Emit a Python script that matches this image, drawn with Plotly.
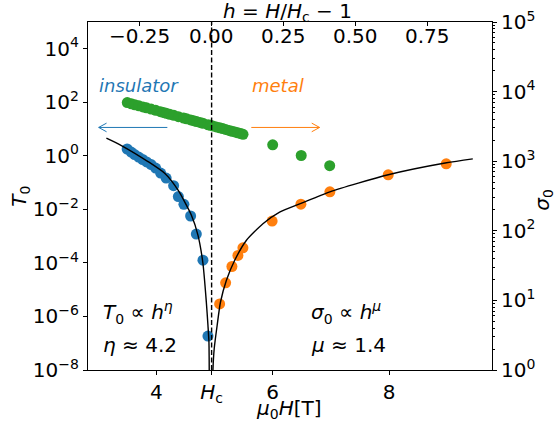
import plotly.graph_objects as go

# ---------------- data ----------------
HC = 4.95  # critical field (T)

ins_H = [3.498, 3.567, 3.627, 3.696, 3.765, 3.833, 3.911, 3.988, 4.074, 4.168,
         4.297, 4.378, 4.474, 4.589, 4.687, 4.801, 4.887]
ins_T0 = [1.8, 1.39, 1.12, 0.90, 0.73, 0.59, 0.47, 0.35, 0.227, 0.148,
          0.077, 0.030, 0.0154, 5.66e-3, 1.2e-3, 1.27e-4, 1.86e-7]

met_H = [5.088, 5.191, 5.299, 5.402, 5.488, 5.990, 6.485, 6.983, 7.986, 8.983]
met_sigma0 = [8.9, 17.9, 30.7, 44.2, 57, 138, 241, 363, 638, 918]

grn_H = [3.50, 3.57, 3.63, 3.70, 3.77, 3.83, 3.91, 3.99, 4.07, 4.12, 4.17, 4.23,
         4.30, 4.38, 4.47, 4.52, 4.59, 4.64, 4.69, 4.75, 4.80, 4.89, 4.93, 4.97,
         5.03, 5.09, 5.14, 5.19, 5.25, 5.30, 5.35, 5.40, 5.45, 5.49,
         6.00, 6.49, 6.98]
grn_T0 = [97.5, 88, 81, 74, 67, 62, 56, 50, 44.5, 41.7, 38.7, 35.8,
          32.6, 29.1, 25.8, 24.1, 21.9, 20.5, 19.1, 17.7, 16.5, 14.5, 13.8, 13.1,
          12.0, 11.1, 10.4, 9.7, 8.9, 8.3, 7.8, 7.3, 6.8, 6.4,
          2.58, 1.03, 0.43]

# fitted curves
fit_ins_H = [3.141, 3.399, 3.856, 4.143, 4.371, 4.601, 4.715, 4.801, 4.859,
             4.887, 4.904, 4.909, 4.912]
fit_ins_T0 = [4.56, 2.43, 0.612, 0.223, 0.0533, 6.17e-3, 1.10e-3, 9.5e-5,
              3.49e-6, 4.68e-7, 1.11e-7, 1e-8, 1e-10]

fit_met_H = [4.969, 4.973, 4.995, 5.045, 5.101, 5.203, 5.345, 5.546, 5.832,
             6.119, 6.485, 6.983, 7.986, 8.988, 9.440]
fit_met_sigma0 = [0.5, 1.0, 2.04, 4.36, 9.33, 19.3, 37.4, 72.6, 126,
                  185, 247, 363, 638, 948, 1081]

# region arrows (x in T, y in T0 units)
arrow_ins_x = [4.189, 3.009]
arrow_met_x = [5.632, 6.806]
arrow_y = 11.5

left_ticks = [1e-8, 1e-6, 1e-4, 1e-2, 1e0, 1e2, 1e4]
left_ticktext = ["10<sup>\u22128</sup>", "10<sup>\u22126</sup>", "10<sup>\u22124</sup>",
                 "10<sup>\u22122</sup>", "10<sup>0</sup>", "10<sup>2</sup>", "10<sup>4</sup>"]
right_ticks = [1e0, 1e1, 1e2, 1e3, 1e4, 1e5]
right_ticktext = ["10<sup>%d</sup>" % i for i in range(6)]
top_ticks = [-0.25, 0.0, 0.25, 0.5, 0.75]
top_ticktext = ["\u22120.25", "0.00", "0.25", "0.50", "0.75"]

BLUE, ORANGE, GREEN = "#1f77b4", "#ff7f0e", "#2ca02c"
FONT = "DejaVu Sans"
XR = [2.825, 9.77]

fig = go.Figure()

fig.add_trace(go.Scatter(x=grn_H, y=grn_T0, mode="markers",
                         marker=dict(color=GREEN, size=11, line=dict(width=0)),
                         xaxis="x", yaxis="y", showlegend=False))
fig.add_trace(go.Scatter(x=ins_H, y=ins_T0, mode="markers",
                         marker=dict(color=BLUE, size=11, line=dict(width=0)),
                         xaxis="x", yaxis="y", showlegend=False))
fig.add_trace(go.Scatter(x=fit_ins_H, y=fit_ins_T0, mode="lines",
                         line=dict(color="black", width=1.4, shape="spline", smoothing=0.6),
                         xaxis="x", yaxis="y", showlegend=False))

# arrows
dx_head = 0.135
fy = 1.45
fig.add_trace(go.Scatter(
    x=arrow_ins_x + [None, arrow_ins_x[1] + dx_head, arrow_ins_x[1], arrow_ins_x[1] + dx_head],
    y=[arrow_y, arrow_y, None, arrow_y * fy, arrow_y, arrow_y / fy],
    mode="lines", line=dict(color=BLUE, width=1), xaxis="x", yaxis="y", showlegend=False))
fig.add_trace(go.Scatter(
    x=arrow_met_x + [None, arrow_met_x[1] - dx_head, arrow_met_x[1], arrow_met_x[1] - dx_head],
    y=[arrow_y, arrow_y, None, arrow_y * fy, arrow_y, arrow_y / fy],
    mode="lines", line=dict(color=ORANGE, width=1), xaxis="x", yaxis="y", showlegend=False))

fig.add_trace(go.Scatter(x=met_H, y=met_sigma0, mode="markers",
                         marker=dict(color=ORANGE, size=11, line=dict(width=0)),
                         xaxis="x", yaxis="y2", showlegend=False))
fig.add_trace(go.Scatter(x=fit_met_H, y=fit_met_sigma0, mode="lines",
                         line=dict(color="black", width=1.4, shape="spline", smoothing=0.6),
                         xaxis="x", yaxis="y2", showlegend=False))

# invisible trace to activate the top h-axis
fig.add_trace(go.Scatter(x=[h / HC - 1 for h in met_H], y=met_sigma0, mode="markers",
                         marker=dict(opacity=0), hoverinfo="skip",
                         xaxis="x2", yaxis="y", showlegend=False))

tickfont = dict(family=FONT, size=20, color="black")
fig.update_layout(
    width=555, height=425,
    margin=dict(l=88, r=63, t=22, b=55),
    paper_bgcolor="white", plot_bgcolor="white",
    font=dict(family=FONT, size=20, color="black"),
    xaxis=dict(range=XR, tickvals=[4, HC, 6, 8],
               ticktext=["4", "<i>H</i><sub>c</sub>", "6", "8"],
               ticks="outside", ticklen=4, tickwidth=1, tickcolor="black",
               showline=True, linecolor="black", linewidth=1.2, automargin=False,
               showgrid=False, zeroline=False, tickfont=tickfont),
    xaxis2=dict(range=[XR[0] / HC - 1, XR[1] / HC - 1], overlaying="x", side="top",
                anchor="y", tickvals=top_ticks, showticklabels=False,
                ticks="inside", ticklen=4, tickcolor="black", automargin=False,
                showline=True, linecolor="black",
                linewidth=1.2, showgrid=False, zeroline=False),
    yaxis=dict(type="log", range=[-8, 5], tickvals=left_ticks, ticktext=left_ticktext,
               ticks="outside", ticklen=4, tickcolor="black", automargin=False,
               showline=True, linecolor="black", linewidth=1.2,
               showgrid=False, zeroline=False, tickfont=tickfont),
    yaxis2=dict(type="log", range=[0, 5], overlaying="y", side="right", anchor="x",
                tickvals=right_ticks, ticktext=right_ticktext, automargin=False,
                ticks="outside", ticklen=4, tickcolor="black",
                minor=dict(tickvals=[m * 10 ** d for d in range(5) for m in range(2, 10)],
                           ticks="outside", ticklen=2, tickcolor="black"),
                showline=True, linecolor="black", linewidth=1.2,
                showgrid=False, zeroline=False, tickfont=tickfont),
    shapes=[dict(type="line", xref="x", yref="paper", x0=HC, x1=HC, y0=0, y1=1,
                 line=dict(color="black", width=1.4, dash="5px,2.5px"))],
)

def ann(text, x, y, **kw):
    d = dict(text=text, x=x, y=y, xref="paper", yref="paper", showarrow=False,
             font=dict(family=FONT, size=20, color="black"))
    d.update(kw)
    fig.add_annotation(**d)

# top-axis tick labels, drawn inside the frame
for tv, tt in zip(top_ticks, top_ticktext):
    fig.add_annotation(text=tt, x=tv, y=0.959, xref="x2", yref="paper", showarrow=False,
                       xanchor="center", yanchor="middle",
                       font=dict(family=FONT, size=20, color="black"))

ann("<i>T</i><sub>0</sub>", -0.169, 0.5, textangle=-90, xanchor="center", yanchor="middle")
ann("<i>\u03c3</i><sub>0</sub>", 1.127, 0.49, textangle=-90, xanchor="center", yanchor="middle")
ann("<i>h</i> = <i>H</i>/<i>H</i><sub>c</sub> \u2212 1", 0.495, 1.028, xanchor="center", yanchor="middle")
ann("<i>\u03bc</i><sub>0</sub><i>H</i>[T]", 0.497, -0.111, xanchor="center", yanchor="middle")
ann("<i>insulator</i>", 0.022, 0.818, xanchor="left", yanchor="middle",
    font=dict(family=FONT, size=18, color=BLUE))
ann("<i>metal</i>", 0.401, 0.818, xanchor="left", yanchor="middle",
    font=dict(family=FONT, size=18, color=ORANGE))
ann("<i>T</i><sub>0</sub> \u221d <i>h</i><sup><i>\u03b7</i></sup>", 0.031, 0.166, xanchor="left", yanchor="middle")
ann("<i>\u03b7</i> \u2248 4.2", 0.031, 0.0705, xanchor="left", yanchor="middle")
ann("<i>\u03c3</i><sub>0</sub> \u221d <i>h</i><sup><i>\u03bc</i></sup>", 0.547, 0.166, xanchor="left", yanchor="middle")
ann("<i>\u03bc</i> \u2248 1.4", 0.547, 0.0705, xanchor="left", yanchor="middle")

fig.write_html("out.html", post_script="document.body.style.margin='0';",
               config={"displayModeBar": False})
